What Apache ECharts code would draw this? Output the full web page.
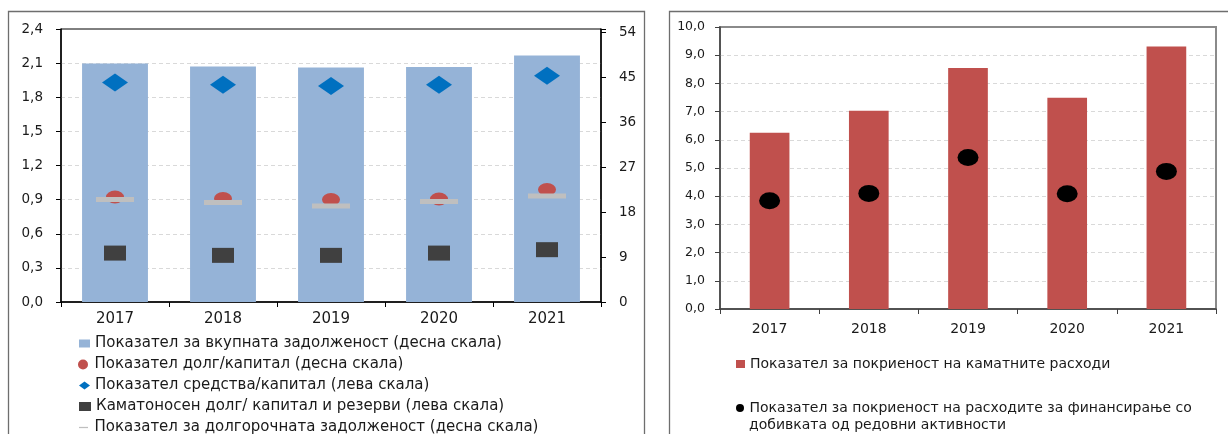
<!DOCTYPE html>
<html><head><meta charset="utf-8">
<script src="https://cdn.jsdelivr.net/npm/echarts@6/dist/echarts.min.js"></script>
<style>html,body{margin:0;padding:0;background:#fff}#c{width:1228px;height:434px}</style>
</head><body><div id="c"></div>
<script>
// ---- data ----
const categories = ['2017', '2018', '2019', '2020', '2021'];
// left panel
const totalDebt = [47.7, 47.1, 46.9, 47.0, 49.3];        // right scale (bars)
const debtEquity = [21.0, 20.7, 20.5, 20.6, 22.5];       // right scale (red dots)
const assetsEquity = [1.93, 1.91, 1.90, 1.91, 1.99];     // left scale (diamonds)
const interestDebt = [0.43, 0.41, 0.41, 0.43, 0.46];     // left scale (squares)
const longTermDebt = [20.5, 19.9, 19.2, 20.1, 21.2];     // right scale (grey dash)
// right panel
const interestCoverage = [6.25, 7.03, 8.55, 7.49, 9.31];
const financingCoverage = [3.84, 4.10, 5.37, 4.09, 4.88];
// axis ranges
const leftAxisL = {min: 0, max: 2.4, interval: 0.3};
const leftAxisR = {min: 0, max: 54.6, interval: 9};
const rightAxis = {min: 0, max: 10, interval: 1};

const names = [
  'Показател за вкупната задолженост (десна скала)',
  'Показател долг/капитал (десна скала)',
  'Показател средства/капитал (лева скала)',
  'Каматоносен долг/ капитал и резерви (лева скала)',
  'Показател за долгорочната задолженост (десна скала)',
  'Показател за покриеност на каматните расходи',
  'Показател за покриеност на расходите за финансирање со добивката од редовни активности'
];
const legendLine2 = 'добивката од редовни активности';

const FONT = 'DejaVu Sans';
const TXT = '#1a1a1a';
const ELLIPSE = 'path://M0,5 A5,5 0 1,1 10,5 A5,5 0 1,1 0,5 Z';
const LINEICON = 'path://M0,0 L0,0 M0,4.3 L10,4.3 L10,5.7 L0,5.7 Z M10,10 L10,10';

const chart = echarts.init(document.getElementById('c'), null, {renderer: 'canvas'});

function leg(name, left, top, icon, w, h, fs, extra) {
  return Object.assign({
    data: [{name: name, icon: icon}],
    left: left, top: top, padding: 0,
    itemWidth: w, itemHeight: h, itemGap: 0,
    selectedMode: false,
    textStyle: {fontFamily: FONT, fontSize: fs, color: TXT, lineHeight: 17}
  }, extra || {});
}

const split = {show: true, showMinLine: false, showMaxLine: false, lineStyle: {color: '#d9d9d9', type: [4, 3], width: 1}};

const option = {
  animation: false,
  backgroundColor: '#fff',
  textStyle: {fontFamily: FONT},
  graphic: [
    {type: 'rect', shape: {x: 8.5, y: 11.5, width: 636, height: 440}, style: {fill: 'none', stroke: '#6e6e6e', lineWidth: 1.3}, z: -10},
    {type: 'rect', shape: {x: 669.5, y: 11.5, width: 600, height: 440}, style: {fill: 'none', stroke: '#6e6e6e', lineWidth: 1.3}, z: -10},
    {type: 'text', x: 749, y: 425, style: {text: legendLine2, fontFamily: FONT, fontSize: 14, fill: TXT, verticalAlign: 'middle'}}
  ],
  grid: [
    {left: 61, top: 29, width: 540, height: 273, show: true, borderColor: '#000', borderWidth: 1, backgroundColor: 'transparent'},
    {left: 720, top: 27, width: 496, height: 282, show: true, borderColor: '#8a8a8a', borderWidth: 2, backgroundColor: 'transparent'}
  ],
  xAxis: [
    {type: 'category', gridIndex: 0, data: categories,
     axisLine: {lineStyle: {color: '#000', width: 1.5}},
     axisTick: {show: true, alignWithLabel: false, length: 5, lineStyle: {color: '#000'}},
     axisLabel: {fontSize: 15, color: TXT, margin: 10, fontFamily: FONT}},
    {type: 'category', gridIndex: 1, data: categories,
     axisLine: {lineStyle: {color: '#404040', width: 1.5}},
     axisTick: {show: true, length: 5, lineStyle: {color: '#404040'}},
     axisLabel: {fontSize: 14, color: TXT, margin: 13, fontFamily: FONT}}
  ],
  yAxis: [
    {type: 'value', gridIndex: 0, position: 'left', min: leftAxisL.min, max: leftAxisL.max, interval: leftAxisL.interval,
     axisLine: {show: true, lineStyle: {color: '#000', width: 1.5}},
     axisTick: {show: true, length: 5, lineStyle: {color: '#000'}},
     axisLabel: {fontSize: 13.5, color: TXT, margin: 18, fontFamily: FONT,
       formatter: v => v.toFixed(1).replace('.', ',')},
     splitLine: split},
    {type: 'value', gridIndex: 0, position: 'right', min: leftAxisR.min, max: leftAxisR.max, interval: leftAxisR.interval,
     axisLine: {show: true, lineStyle: {color: '#000', width: 1.5}},
     axisTick: {show: true, length: 5, lineStyle: {color: '#000'}},
     axisLabel: {fontSize: 13.5, color: TXT, margin: 18, fontFamily: FONT,
       formatter: v => (Math.abs(v % 9) < 1e-6 ? String(v) : '')},
     splitLine: {show: false}},
    {type: 'value', gridIndex: 1, min: rightAxis.min, max: rightAxis.max, interval: rightAxis.interval,
     axisLine: {show: true, lineStyle: {color: '#404040', width: 1.5}},
     axisTick: {show: true, length: 5, lineStyle: {color: '#404040'}},
     axisLabel: {fontSize: 12.5, color: TXT, margin: 15, fontFamily: FONT,
       formatter: v => v.toFixed(1).replace('.', ',')},
     splitLine: split}
  ],
  legend: [
    leg(names[0], 79, 335, 'rect', 11, 8, 15),
    leg(names[1], 78, 356, ELLIPSE, 13, 10, 15),
    leg(names[2], 79, 377, 'diamond', 11, 8, 15),
    leg(names[3], 79, 398, 'rect', 12, 9, 15),
    leg(names[4], 79, 419, LINEICON, 12, 9, 15),
    leg(names[5], 736, 355.5, 'rect', 9, 8, 14),
    leg(names[6], 736, 399.5, ELLIPSE, 9, 8, 14, {
      formatter: n => n.replace(' ' + legendLine2, '')
    })
  ],
  series: [
    {name: names[0], type: 'bar', xAxisIndex: 0, yAxisIndex: 1, data: totalDebt,
     barWidth: '61%', itemStyle: {color: '#95b3d7'}},
    {name: names[1], type: 'scatter', xAxisIndex: 0, yAxisIndex: 1, data: debtEquity,
     symbol: ELLIPSE, symbolSize: [18, 13], itemStyle: {color: '#c0504d', opacity: 1}},
    {name: names[2], type: 'scatter', xAxisIndex: 0, yAxisIndex: 0, data: assetsEquity,
     symbol: 'diamond', symbolSize: [26, 18], itemStyle: {color: '#0070c0', opacity: 1}},
    {name: names[3], type: 'scatter', xAxisIndex: 0, yAxisIndex: 0, data: interestDebt,
     symbol: 'rect', symbolSize: [22, 15], itemStyle: {color: '#404040', opacity: 1}},
    {name: names[4], type: 'scatter', xAxisIndex: 0, yAxisIndex: 1, data: longTermDebt,
     symbol: 'rect', symbolSize: [38, 5], itemStyle: {color: '#bfbfbf', opacity: 1}},
    {name: names[5], type: 'bar', xAxisIndex: 1, yAxisIndex: 2, data: interestCoverage,
     barWidth: '40%', itemStyle: {color: '#c0504d'}},
    {name: names[6], type: 'scatter', xAxisIndex: 1, yAxisIndex: 2, data: financingCoverage,
     symbol: ELLIPSE, symbolSize: [21, 17], itemStyle: {color: '#000', opacity: 1}}
  ]
};
chart.setOption(option);
</script></body></html>
